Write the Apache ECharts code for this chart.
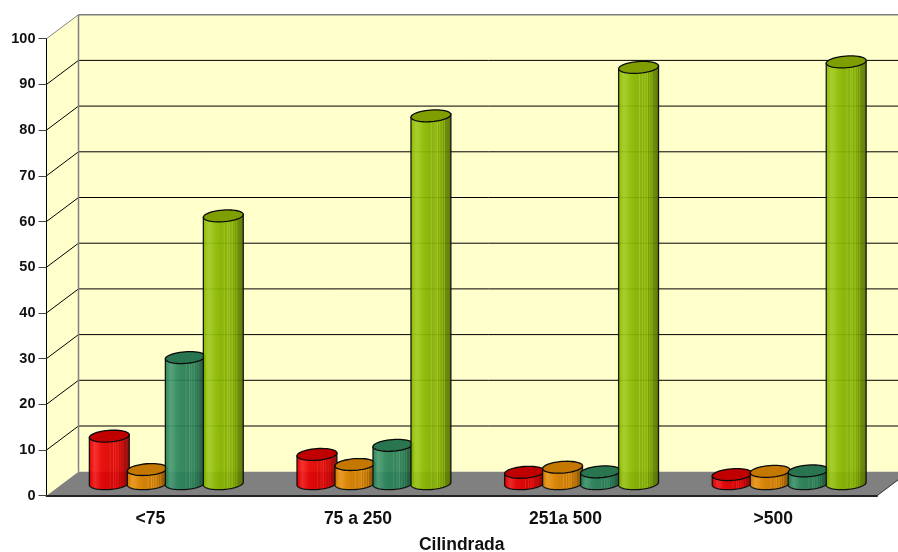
<!DOCTYPE html>
<html>
<head>
<meta charset="utf-8">
<style>html,body{margin:0;padding:0;background:#fff}#chart{width:898px;height:552px}</style>
<script src="https://cdn.jsdelivr.net/npm/echarts@6/dist/echarts.min.js"></script>
</head>
<body>
<div id="chart"></div>
<script>
// Share by engine size, one value per column group
const categories = ['<75', '75 a 250', '251a 500', '>500'];
const redValues = [10.4, 6.4, 2.5, 2.0];
const orangeValues = [3.1, 4.2, 3.6, 2.7];
const greenValues = [27.6, 8.4, 2.6, 2.8];
const limeValues = [58.6, 80.5, 91.1, 92.3];
const yTicks = [0, 10, 20, 30, 40, 50, 60, 70, 80, 90, 100];

// Pseudo-3D box depth in pixels
const DEPTH_X = 32, DEPTH_Y = 24;
// Cylinder proportions
const RX = 20, RY = 5.8, TILT = -4.3 * Math.PI / 180, STEP = 38;

function mix(hex, k) {
  const n = parseInt(hex.slice(1), 16);
  const t = k > 0 ? 255 : 0, a = Math.abs(k);
  const c = [n >> 16, (n >> 8) & 255, n & 255].map(v => Math.round(v + (t - v) * a));
  return 'rgb(' + c.join(',') + ')';
}

// Shading across a cylinder: soft highlight on the left, fine pale ribs on the right
const ribShade = [
  [0, -0.1], [0.06, 0.0], [0.14, 0.14], [0.22, 0.08], [0.3, -0.02], [0.42, -0.08], [0.5, -0.08],
  [0.52, 0.08], [0.54, -0.1], [0.58, -0.1], [0.6, 0.1], [0.62, -0.12], [0.66, 0.08], [0.68, -0.16],
  [0.72, 0.04], [0.74, -0.22], [0.78, -0.06], [0.8, -0.28], [0.83, -0.1], [0.85, -0.32], [0.9, -0.34], [1, -0.42]
];

function bodyFill(color) {
  return new echarts.graphic.LinearGradient(0, 0, 1, 0,
    ribShade.map(s => ({ offset: s[0], color: mix(color, s[1]) })));
}

function ellipsePoint(cx, cy, t) {
  const ct = Math.cos(t), st = Math.sin(t);
  return [
    cx + RX * ct * Math.cos(TILT) - RY * st * Math.sin(TILT),
    cy + RX * ct * Math.sin(TILT) + RY * st * Math.cos(TILT)
  ];
}

function cylinder(slot, color, topColor) {
  return function (params, api) {
    const cat = api.value(0);
    const top = api.coord([cat, api.value(1)]);
    const base = api.coord([cat, 0]);
    const cx = top[0] + DEPTH_X / 2 + (slot - 1.5) * STEP;
    const topY = top[1] - DEPTH_Y / 2;
    const baseY = base[1] - DEPTH_Y / 2;
    const body = [];
    for (let i = 0; i <= 36; i++) {
      body.push(ellipsePoint(cx, baseY, Math.PI - Math.PI * i / 36));
    }
    body.push(ellipsePoint(cx, topY, 0));
    body.push(ellipsePoint(cx, topY, Math.PI));
    const cap = [];
    for (let i = 0; i < 48; i++) {
      cap.push(ellipsePoint(cx, topY, 2 * Math.PI * i / 48));
    }
    return {
      type: 'group',
      children: [
        { type: 'polygon', shape: { points: body },
          style: { fill: bodyFill(color), stroke: '#0a0a0a', lineWidth: 1.3, opacity: 0.93 } },
        { type: 'polygon', shape: { points: cap },
          style: { fill: topColor, stroke: '#0a0a0a', lineWidth: 1.3 } }
      ]
    };
  };
}

function renderBox(params, api) {
  const half = api.size([1, 0])[0] / 2;
  const x0 = api.coord([0, 0])[0] - half;
  const x1 = api.coord([categories.length - 1, 0])[0] + half;
  const y0 = api.coord([0, 0])[1];
  const y1 = api.coord([0, 100])[1];
  const bx = DEPTH_X, by = DEPTH_Y;
  const kids = [
    { type: 'polygon', shape: { points: [[x0, y0], [x0 + bx, y0 - by], [x0 + bx, y1 - by], [x0, y1]] },
      style: { fill: '#FFFFCC' } },
    { type: 'polygon', shape: { points: [[x0 + bx, y0 - by], [x1 + bx, y0 - by], [x1 + bx, y1 - by], [x0 + bx, y1 - by]] },
      style: { fill: '#FFFFCC' } },
    { type: 'polygon', shape: { points: [[x0, y0], [x1, y0], [x1 + bx, y0 - by], [x0 + bx, y0 - by]] },
      style: { fill: '#808080' } }
  ];
  yTicks.forEach(v => {
    if (v === 0) return;
    const y = api.coord([0, v])[1];
    const edge = v === 100 ? '#808080' : '#000000';
    kids.push({ type: 'line', shape: { x1: x0, y1: y, x2: x0 + bx, y2: y - by },
      style: { stroke: edge, lineWidth: 1 } });
    kids.push({ type: 'line', shape: { x1: x0 + bx, y1: y - by, x2: x1 + bx, y2: y - by },
      style: { stroke: edge, lineWidth: v === 100 ? 1.5 : 1 } });
  });
  kids.push({ type: 'line', shape: { x1: x0 + bx, y1: y0 - by, x2: x0 + bx, y2: y1 - by },
    style: { stroke: '#808080', lineWidth: 1.5 } });
  kids.push({ type: 'line', shape: { x1: x1, y1: y0, x2: x1 + bx, y2: y0 - by },
    style: { stroke: '#333333', lineWidth: 1 } });
  return { type: 'group', children: kids };
}

const barSeries = (values, slot, color, topColor) => ({
  type: 'custom',
  z: 3,
  silent: true,
  renderItem: cylinder(slot, color, topColor),
  encode: { x: 0, y: 1 },
  data: values.map((v, i) => [i, v])
});

const chart = echarts.init(document.getElementById('chart'), null, { renderer: 'canvas' });
chart.setOption({
  animation: false,
  grid: { left: 46.5, right: 21, top: 38.7, bottom: 56.3, outerBoundsMode: 'none' },
  xAxis: {
    type: 'category',
    data: categories,
    z: 6,
    name: 'Cilindrada',
    nameLocation: 'middle',
    nameGap: 40,
    nameTextStyle: { fontFamily: 'Liberation Sans', fontSize: 17.5, fontWeight: 'bold', color: '#111' },
    axisLine: { lineStyle: { color: '#222', width: 2 } },
    axisTick: { length: 10, lineStyle: { color: '#555', width: 1 } },
    axisLabel: { interval: 0, margin: 14, fontFamily: 'Liberation Sans', fontSize: 17.5, fontWeight: 'bold', color: '#111' },
    splitLine: { show: false }
  },
  yAxis: {
    type: 'value',
    min: 0,
    max: 100,
    interval: 10,
    z: 6,
    axisLine: { show: true, lineStyle: { color: '#000', width: 1 } },
    axisTick: { show: true, length: 8, lineStyle: { color: '#444', width: 1 } },
    axisLabel: { margin: 11, fontFamily: 'Liberation Sans', fontSize: 14.5, fontWeight: 'bold', color: '#111' },
    splitLine: { show: false }
  },
  series: [
    { type: 'custom', z: 1, silent: true, renderItem: renderBox, encode: { x: 0, y: 1 }, data: [[0, 0]] },
    barSeries(redValues, 0, '#F00000', '#C00000'),
    barSeries(orangeValues, 1, '#E88C00', '#C47800'),
    barSeries(greenValues, 2, '#2D8A5E', '#28754F'),
    barSeries(limeValues, 3, '#90C000', '#7F9F00')
  ]
});
</script>
</body>
</html>
